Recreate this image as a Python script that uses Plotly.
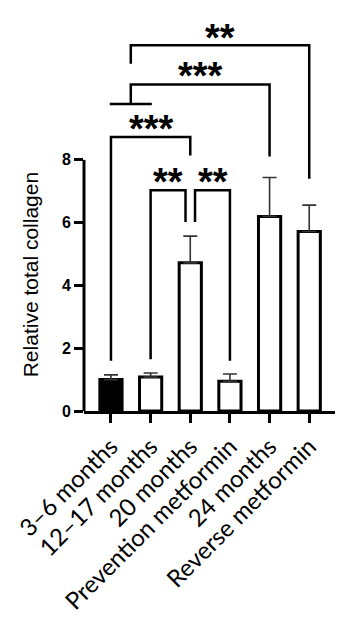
import plotly.graph_objects as go

categories = ["3–6 months", "12–17 months", "20 months", "Prevention metformin", "24 months", "Reverse metformin"]
means = [1.0, 1.08, 4.72, 0.95, 6.2, 5.72]
sems = [0.15, 0.13, 0.85, 0.23, 1.24, 0.84]
fills = ["black", "white", "white", "white", "white", "white"]
y_ticks = [0, 2, 4, 6, 8]

# significance comparisons: (left x, right x, left leg bottom, right leg bottom, bar height, label, label x, label y)
brackets = [
    (1.0, 1.88, 1.65, 6.02, 7.03, "**", 1.44, 7.59),
    (2.12, 3.0, 6.02, 1.6, 7.03, "**", 2.58, 7.59),
    (0.0, 2.0, 1.6, 8.14, 8.73, "***", 1.01, 9.28),
    (0.5, 4.0, 9.78, 8.11, 10.4, "***", 2.26, 10.96),
    (0.5, 5.0, 11.06, 7.4, 11.65, "**", 2.76, 12.18),
]
group_line = (-0.03, 1.03, 9.78)

fig = go.Figure()
fig.add_trace(go.Bar(
    x=categories, y=means, width=0.56,
    marker=dict(color=fills, line=dict(color="black", width=3)),
    error_y=dict(type="data", symmetric=False, array=sems, arrayminus=[0] * len(sems),
                 color="#333333", thickness=1.6, width=7),
    showlegend=False,
))

shapes = []
line_style = dict(color="black", width=2.5)
for (xl, xr, yl, yr, yh, lab, tx, ty) in brackets:
    shapes.append(dict(type="path", xref="x", yref="y",
                       path=f"M {xl},{yl} L {xl},{yh} L {xr},{yh} L {xr},{yr}",
                       line=line_style))
shapes.append(dict(type="line", xref="x", yref="y", x0=group_line[0], x1=group_line[1],
                   y0=group_line[2], y1=group_line[2], line=line_style))
# y axis line spanning only the tick range
shapes.append(dict(type="line", xref="paper", yref="y", x0=0, x1=0, y0=0, y1=max(y_ticks),
                   line=dict(color="black", width=3)))

annotations = []
for (xl, xr, yl, yr, yh, lab, tx, ty) in brackets:
    annotations.append(dict(x=tx, y=ty, xref="x", yref="y", text=lab, showarrow=False,
                            font=dict(family="Liberation Sans", size=38, color="black", weight="bold"),
                            xanchor="center", yanchor="middle", yshift=-9))
annotations.append(dict(x=-0.213, y=4.34, xref="paper", yref="y", text="Relative total collagen",
                        textangle=-90, showarrow=False, xanchor="center", yanchor="middle",
                        font=dict(family="Liberation Sans", size=21, color="black")))

fig.update_layout(
    width=349, height=607,
    margin=dict(l=76, r=22, t=10, b=204),
    plot_bgcolor="white", paper_bgcolor="white",
    shapes=shapes, annotations=annotations,
    xaxis=dict(range=[-0.68, 5.65], showline=True, linecolor="black", linewidth=3,
               ticks="outside", ticklen=9, tickwidth=3, tickcolor="black",
               tickangle=-45, showgrid=False, zeroline=False, automargin=False,
               tickfont=dict(family="Lato", size=24, color="black")),
    yaxis=dict(range=[0, 12.52], tickvals=y_ticks, showline=False,
               ticks="outside", ticklen=9, tickwidth=3, tickcolor="black",
               showgrid=False, zeroline=False, automargin=False,
               tickfont=dict(family="Liberation Sans", size=16, color="black", weight="bold")),
)

fig.write_html("out.html")
